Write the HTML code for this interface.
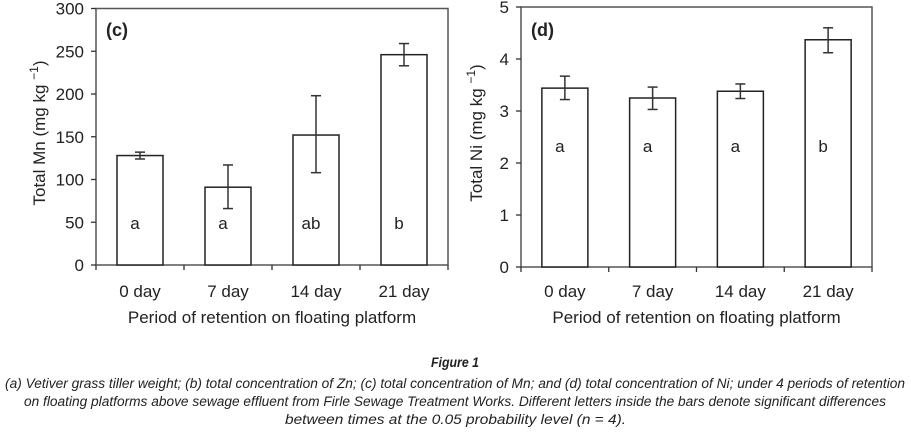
<!DOCTYPE html>
<html><head><meta charset="utf-8"><style>
html,body{margin:0;padding:0;background:#fff;}
svg{display:block;font-family:"Liberation Sans",sans-serif;}
</style></head><body>
<svg id="fig" width="911" height="440" viewBox="0 0 911 440">
<g id="chartC"></g>
<g id="chartD"></g>
<g font-style="italic" fill="#222" font-size="13.5">
<text x="455" y="367" text-anchor="middle" font-weight="bold" font-size="14" textLength="48" lengthAdjust="spacingAndGlyphs">Figure 1</text>
<text x="5" y="388" textLength="900" lengthAdjust="spacingAndGlyphs">(a) Vetiver grass tiller weight; (b) total concentration of Zn; (c) total concentration of Mn; and (d) total concentration of Ni; under 4 periods of retention</text>
<text x="24" y="406" textLength="862" lengthAdjust="spacingAndGlyphs">on floating platforms above sewage effluent from Firle Sewage Treatment Works. Different letters inside the bars denote significant differences</text>
<text x="285" y="424" textLength="341" lengthAdjust="spacingAndGlyphs">between times at the 0.05 probability level (n = 4).</text>
</g>
</svg>
<script>
const categories = ["0 day","7 day","14 day","21 day"];
const mnValues = [128, 91, 152, 246];
const mnLow = [124, 66, 108, 233];
const mnHigh = [132, 117, 198, 259];
const mnLetters = ["a","a","ab","b"];
const mnTicks = [0,50,100,150,200,250,300];
const niValues = [3.44, 3.25, 3.38, 4.37];
const niLow = [3.22, 3.03, 3.24, 4.12];
const niHigh = [3.67, 3.46, 3.52, 4.60];
const niLetters = ["a","a","a","b"];
const niTicks = [0,1,2,3,4,5];

const NS="http://www.w3.org/2000/svg";
function mk(parent,tag,attrs,text){
  const e=document.createElementNS(NS,tag);
  for(const k in attrs)e.setAttribute(k,attrs[k]);
  if(text!==undefined)e.textContent=text;
  parent.appendChild(e);return e;
}
function draw(g,cfg){
  const L=cfg.x0,R=cfg.x1,T=cfg.yTop,B=cfg.yBot,max=cfg.ticks[cfg.ticks.length-1];
  const y=v=>B-(v/max)*(B-T);
  const cw=(R-L)/categories.length;
  const xc=i=>L+cw*(i+0.5);
  const frame=mk(g,'rect',{x:L,y:T,width:R-L,height:B-T,fill:'none',stroke:'#555','stroke-width':1.5});
  
  
  cfg.ticks.forEach(t=>{
    const tk=mk(g,'line',{x1:L-5,x2:L,y1:y(t),y2:y(t),stroke:'#333','stroke-width':1.3});
    
    
    const lb=mk(g,'text',{x:L-12,y:y(t)+6,'text-anchor':'end','font-size':17,fill:'#222'},String(t));
    
    
  });
  for(let i=0;i<=categories.length;i++){
    const tk=mk(g,'line',{x1:L+cw*i,x2:L+cw*i,y1:B,y2:B+5,stroke:'#333','stroke-width':1.3});
    
    
  }
  const bw=46;
  categories.forEach((c,i)=>{
    const v=cfg.values[i];
    const bar=mk(g,'rect',{x:xc(i)-bw/2,y:y(v),width:bw,height:B-y(v),fill:'#fff',stroke:'#222','stroke-width':1.5});
    
    
    const eg=mk(g,'g',{stroke:'#333','stroke-width':1.5});
    
    
    mk(eg,'line',{x1:xc(i),x2:xc(i),y1:y(cfg.low[i]),y2:y(cfg.high[i])});
    mk(eg,'line',{x1:xc(i)-5,x2:xc(i)+5,y1:y(cfg.low[i]),y2:y(cfg.low[i])});
    mk(eg,'line',{x1:xc(i)-5,x2:xc(i)+5,y1:y(cfg.high[i]),y2:y(cfg.high[i])});
    const lt=mk(g,'text',{x:xc(i)-5,y:cfg.letterY,'text-anchor':'middle','font-size':17,fill:'#222'},cfg.letters[i]);
    
    
    const xl=mk(g,'text',{x:xc(i),y:297,'text-anchor':'middle','font-size':17,fill:'#222'},c);
    
    
  });
  const xt=mk(g,'text',{x:(L+R)/2,y:323,'text-anchor':'middle','font-size':17,fill:'#222'},'Period of retention on floating platform');
  
  
  const yt=mk(g,'text',{transform:`translate(${cfg.ytX},${cfg.ytY}) rotate(-90)`,'text-anchor':'middle','font-size':17,fill:'#222'});
  
  
  mk(yt,'tspan',{},cfg.ytitle+' (mg kg ');
  mk(yt,'tspan',{dy:-7,'font-size':12},'−1');
  mk(yt,'tspan',{dy:7},')');
  const pl=mk(g,'text',{x:L+10,y:36,'font-size':18,'font-weight':'bold',fill:'#222'},cfg.panel);
  
  
}
draw(document.getElementById('chartC'),{x0:96,x1:448,yTop:8.5,yBot:265,ticks:mnTicks,values:mnValues,low:mnLow,high:mnHigh,letters:mnLetters,letterY:229,ytitle:'Total Mn',ytX:45,ytY:133,panel:'(c)'});
draw(document.getElementById('chartD'),{x0:521,x1:872,yTop:7,yBot:267,ticks:niTicks,values:niValues,low:niLow,high:niHigh,letters:niLetters,letterY:152,ytitle:'Total Ni',ytX:482,ytY:133,panel:'(d)'});
</script>
</body></html>
